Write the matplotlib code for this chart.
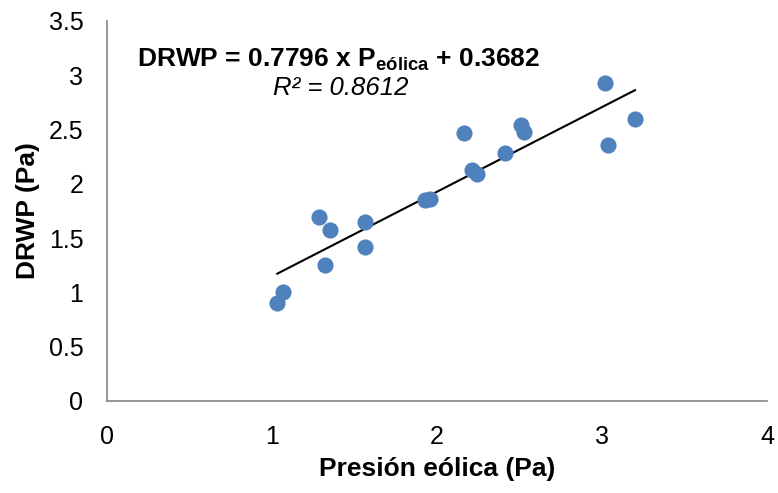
import numpy as np
import matplotlib.pyplot as plt

plt.rcParams['font.family'] = ['Liberation Sans', 'DejaVu Sans']
plt.rcParams['mathtext.fontset'] = 'custom'
plt.rcParams['mathtext.rm'] = 'Liberation Sans'
plt.rcParams['mathtext.it'] = 'Liberation Sans:italic'
plt.rcParams['mathtext.bf'] = 'Liberation Sans:bold'

# data
presion = [1.032, 1.065, 1.287, 1.323, 1.352, 1.565, 1.565, 1.927, 1.958,
           2.165, 2.210, 2.244, 2.414, 2.509, 2.527, 3.018, 3.038, 3.200]
drwp = [0.900, 1.004, 1.692, 1.252, 1.575, 1.651, 1.415, 1.851, 1.857,
        2.465, 2.127, 2.090, 2.286, 2.541, 2.480, 2.925, 2.355, 2.597]
slope = 0.7796
intercept = 0.3682
r2 = 0.8612

xticks = [0, 1, 2, 3, 4]
yticks = [0, 0.5, 1, 1.5, 2, 2.5, 3, 3.5]

fig = plt.figure(figsize=(7.78, 4.93), dpi=100)
ax = fig.add_axes([107 / 778, 1 - 401 / 493, 660 / 778, 380 / 493])

ax.scatter(presion, drwp, s=135, color='#4F81BD', zorder=3, linewidths=0)

# trendline
xl = np.array([min(presion), max(presion)])
ax.plot(xl, slope * xl + intercept, color='black', lw=1.5, zorder=2)

ax.set_xlim(0, 4)
ax.set_ylim(0, 3.5)
ax.set_xticks(xticks)
ax.set_xticklabels([f'{v:g}' for v in xticks])
ax.set_yticks(yticks)
ax.set_yticklabels([f'{v:g}' for v in yticks])
ax.tick_params(axis='both', length=0, labelsize=18)
ax.tick_params(axis='x', pad=17)
ax.tick_params(axis='y', pad=17)

for s in ['top', 'right']:
    ax.spines[s].set_visible(False)
for s in ['left', 'bottom']:
    ax.spines[s].set_color('#868686')
    ax.spines[s].set_linewidth(1.2)

ax.set_xlabel('Presión eólica (Pa)', fontsize=19, fontweight='bold', labelpad=6)
ax.set_ylabel('DRWP (Pa)', fontsize=19, fontweight='bold', labelpad=6)

fig.text(339 / 778, 1 - 60 / 493,
         r'DRWP = 0.7796 x P$_{\mathbf{eólica}}$ + 0.3682',
         fontsize=19, fontweight='bold', ha='center', va='center')
fig.text(341 / 778, 1 - 88 / 493, f'R² = {r2}',
         fontsize=18.5, style='italic', ha='center', va='center')

fig.savefig('out.png', dpi=100)
